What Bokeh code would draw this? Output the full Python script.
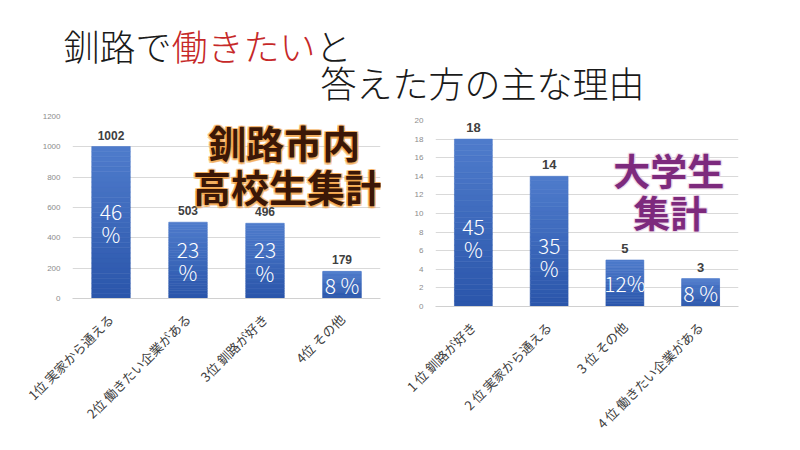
from math import pi
from bokeh.plotting import figure
from bokeh.layouts import column, row
from bokeh.models import ColumnDataSource, Range1d, FactorRange, Label, FixedTicker
from bokeh.core.properties import value
from bokeh.embed import file_html
from bokeh.resources import INLINE

JP = "Noto Sans CJK JP"
JP_LIGHT = "Noto Sans CJK JP Light"

# ---- data ----
title_line1 = ["釧路で", "働きたい", "と"]
title_line1_colors = ["#1a1a1a", "#c62828", "#1a1a1a"]
title_line2 = "答えた方の主な理由"

hs_categories = ["1位 実家から通える", "2位 働きたい企業がある", "3位 釧路が好き", "4位 その他"]
hs_counts = [1002, 503, 496, 179]
hs_percent = ["46\n%", "23\n%", "23\n%", "8 %"]
hs_ticks = [0, 200, 400, 600, 800, 1000, 1200]
hs_overlay = ["釧路市内", "高校生集計"]

uni_categories = ["1 位 釧路が好き", "2 位 実家から通える", "3 位 その他", "4 位 働きたい企業がある"]
uni_counts = [18, 14, 5, 3]
uni_percent = ["45\n%", "35\n%", "12%", "8 %"]
uni_ticks = [0, 2, 4, 6, 8, 10, 12, 14, 16, 18, 20]
uni_overlay = ["大学生", "集計"]


def gradient_source(cats, vals, n=30, top=(0x4f, 0x7c, 0xcc), bot=(0x2a, 0x55, 0xaa)):
    xs, b, t, c = [], [], [], []
    for k in range(n):
        f = (k + 0.5) / n
        col = "#%02x%02x%02x" % tuple(int(round(bot[i] + (top[i] - bot[i]) * f)) for i in range(3))
        for cat, v in zip(cats, vals):
            xs.append(cat)
            b.append(v * k / n)
            t.append(v * (k + 1) / n)
            c.append(col)
    return ColumnDataSource(dict(x=xs, bottom=b, top=t, color=c))


def make_chart(cats, vals, pcts, ticks, width, borders, val_size, pct_shift,
               overlay, overlay_pos, overlay_color, glow_color, glow_alpha, glow_r):
    p = figure(x_range=FactorRange(*cats), y_range=Range1d(ticks[0], ticks[-1]),
               width=width, height=334, output_backend="svg", toolbar_location=None,
               min_border_left=borders[0], min_border_right=borders[1],
               min_border_top=borders[2], min_border_bottom=borders[3])
    p.outline_line_color = None
    p.background_fill_color = "white"
    p.border_fill_color = "white"
    p.xgrid.grid_line_color = None
    p.ygrid.grid_line_color = "#d9d9d9"
    p.yaxis.ticker = FixedTicker(ticks=ticks)
    p.yaxis.axis_line_color = None
    p.yaxis.major_tick_line_color = None
    p.yaxis.minor_tick_line_color = None
    p.yaxis.major_label_text_font_size = "8px"
    p.yaxis.major_label_text_color = "#8c8c8c"
    p.yaxis.major_label_standoff = 6
    p.xaxis.axis_line_color = "#d0d0d0"
    p.xaxis.major_tick_line_color = None
    p.xaxis.minor_tick_line_color = None
    p.xaxis.major_label_orientation = pi / 4
    p.xaxis.major_label_text_font = JP
    p.xaxis.major_label_text_font_size = "13px"
    p.xaxis.major_label_text_color = "#404040"
    p.xaxis.major_label_standoff = 12

    src = gradient_source(cats, vals)
    p.vbar(x="x", bottom="bottom", top="top", width=0.5, fill_color="color",
           line_color="color", line_width=0.6, source=src)

    p.text(x=cats, y=vals, text=[str(v) for v in vals], text_align="center",
           text_baseline="bottom", y_offset=-7, text_font=value("Liberation Sans"),
           text_font_style="bold", text_font_size=val_size, text_color="#404040")

    offs = [pct_shift if "\n" in s else 0 for s in pcts]
    p.text(x=cats, y=[v / 2 for v in vals], text=pcts, text_align="center",
           text_baseline="middle", y_offset=offs, text_font=value(JP_LIGHT),
           text_font_size="21px", text_color="white", text_line_height=0.78)

    steps = [-glow_r, 0, glow_r]
    rings = [(dx, dy) for dx in steps for dy in steps if (dx, dy) != (0, 0)]
    for txt, (ox, oy, fs) in zip(overlay, overlay_pos):
        for dx, dy in rings:
            p.add_layout(Label(x=ox, y=oy, text=txt, x_offset=dx, y_offset=dy,
                               text_align="center", text_baseline="middle",
                               text_font=JP, text_font_style="bold", text_font_size=fs,
                               text_color=glow_color, text_alpha=glow_alpha))
        p.add_layout(Label(x=ox, y=oy, text=txt, text_align="center", text_baseline="middle",
                           text_font=JP, text_font_style="bold", text_font_size=fs,
                           text_color=overlay_color))
    return p


# ---- title ----
t = figure(width=792, height=108, x_range=Range1d(0, 792), y_range=Range1d(0, 108),
           output_backend="svg", toolbar_location=None,
           min_border_left=0, min_border_right=0, min_border_top=0, min_border_bottom=0)
t.axis.visible = False
t.grid.visible = False
t.outline_line_color = None
xpos = 63
for seg, col in zip(title_line1, title_line1_colors):
    t.text(x=[xpos], y=[64], text=[seg], text_align="left", text_baseline="middle",
           text_font=value(JP_LIGHT), text_font_size="36px", text_color=col)
    xpos += 36 * len(seg)
t.text(x=[320], y=[27], text=[title_line2], text_align="left", text_baseline="middle",
       text_font=value(JP_LIGHT), text_font_size="36px", text_color="#1a1a1a")

p1 = make_chart(hs_categories, hs_counts, hs_percent, hs_ticks, 395, (72, 15, 8, 144),
                "12px", 0, hs_overlay, [(2.75, 1035, "38px"), (2.8, 745, "38px")],
                "#3b1707", "#f2a040", 0.45, 1.5)
p2 = make_chart(uni_categories, uni_counts, uni_percent, uni_ticks, 397, (40, 54, 12, 129),
                "13px", 15, uni_overlay, [(3.08, 14.7, "37px"), (3.1, 10.15, "37px")],
                "#7d2a7d", "#ead0e4", 0.5, 1.2)

layout = column(t, row(column(p1), column(p2)))
open("out.html", "w").write(file_html(layout, INLINE))
